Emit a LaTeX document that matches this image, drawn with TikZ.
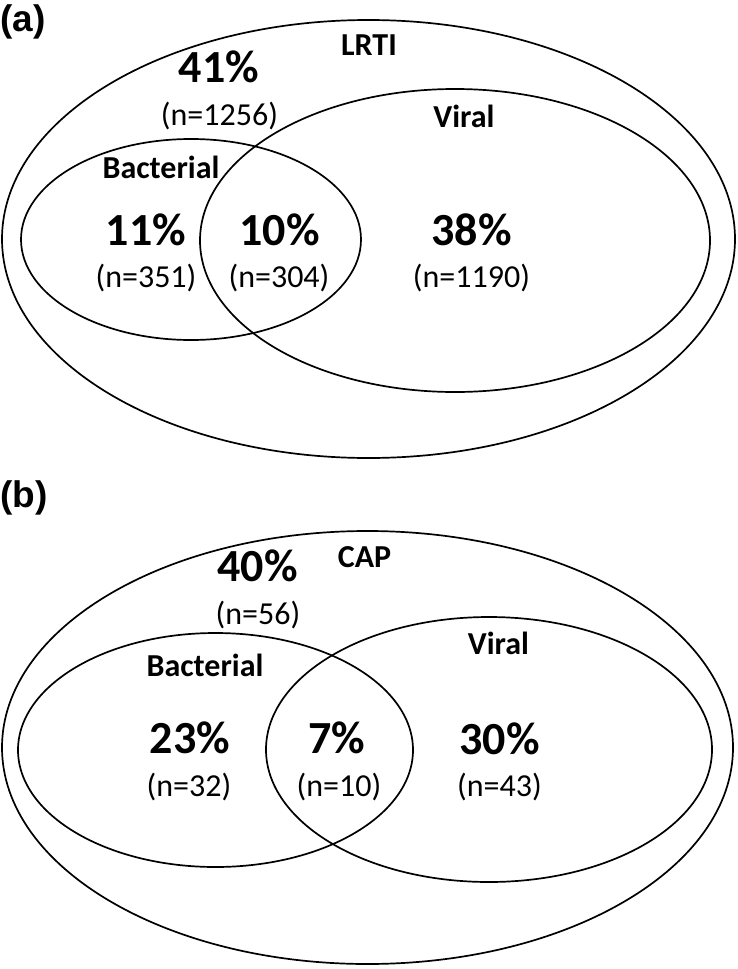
\documentclass[tikz,border=0pt]{standalone}
\usepackage{fontspec}
\setmainfont{Carlito}
\newfontfamily\panelfont{Liberation Sans}
\begin{document}
\begin{tikzpicture}[
    x=1pt, y=-1pt,
    set/.style={line width=1.7pt},
    pct/.style={font=\fontsize{46}{46}\selectfont\bfseries},
    cnt/.style={font=\fontsize{32}{32}\selectfont},
    setname/.style={font=\fontsize{32}{32}\selectfont\bfseries},
    panel/.style={font=\panelfont\fontsize{37}{37}\selectfont\bfseries, anchor=north west, inner sep=0pt}
]
\useasboundingbox (0,0) rectangle (738,969);

% --- (a) LRTI ---
\node[panel] (pa) at (0,4) {(a)};

\draw[set] (368.5,239) ellipse (366.5 and 219);
\draw[set] (191,239.5) ellipse (170 and 100.5);
\draw[set] (455,240.5) ellipse (255 and 151.5);

\node[setname] (lrti) at (369,45) {LRTI};
\node[setname] (viralA) at (464,116) {Viral};
\node[setname] (bactA) at (161,167.5) {Bacterial};

\node[pct] (aOnly) at (219,67) {41\%};
\node[cnt] (aOnlyN) at (219.5,116.5) {(n=1256)};
\node[pct] (aBact) at (146,230) {11\%};
\node[cnt] (aBactN) at (146,278) {(n=351)};
\node[pct] (aBoth) at (279.5,230) {10\%};
\node[cnt] (aBothN) at (279,278) {(n=304)};
\node[pct] (aVir) at (471.5,230) {38\%};
\node[cnt] (aVirN) at (471.5,278) {(n=1190)};

% --- (b) CAP ---
\node[panel] (pb) at (0,480) {(b)};

\draw[set] (367.5,747.5) ellipse (365.5 and 216.5);
\draw[set] (215.5,750) ellipse (197.5 and 117);
\draw[set] (489,749.5) ellipse (223 and 132.5);

\node[setname] (cap) at (364.5,557) {CAP};
\node[setname] (viralB) at (498.5,643) {Viral};
\node[setname] (bactB) at (205,665) {Bacterial};

\node[pct] (bOnly) at (257.5,566) {40\%};
\node[cnt] (bOnlyN) at (258,615.5) {(n=56)};
\node[pct] (bBact) at (190,738) {23\%};
\node[cnt] (bBactN) at (189,787) {(n=32)};
\node[pct] (bBoth) at (337,738) {7\%};
\node[cnt] (bBothN) at (339,787) {(n=10)};
\node[pct] (bVir) at (499.5,739) {30\%};
\node[cnt] (bVirN) at (499.5,787) {(n=43)};

\end{tikzpicture}
\end{document}
